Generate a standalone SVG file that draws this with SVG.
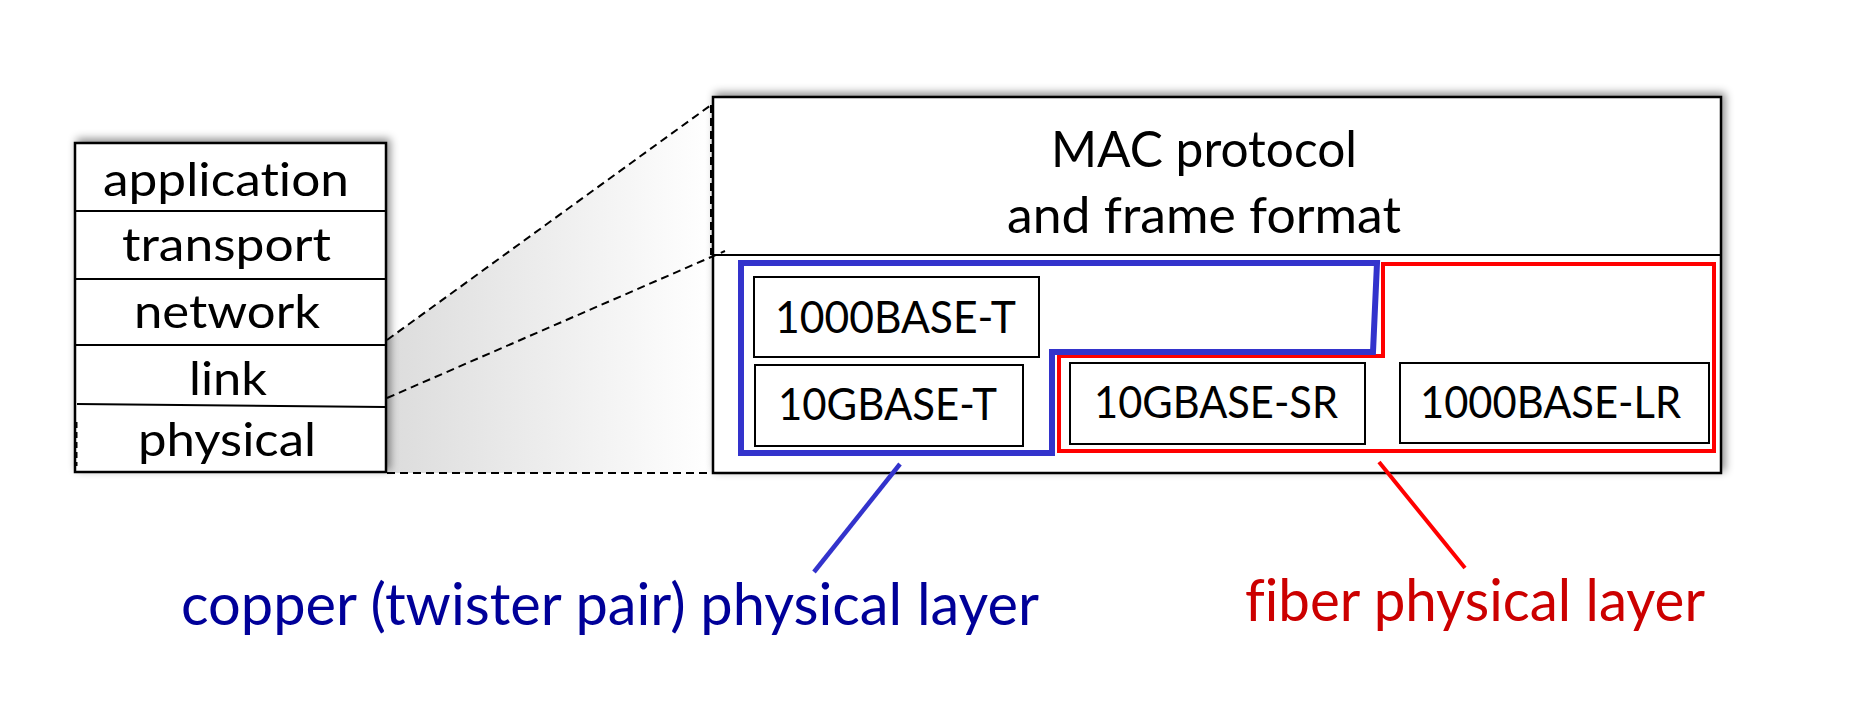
<svg xmlns="http://www.w3.org/2000/svg" width="1856" height="704" viewBox="0 0 1856 704">
<defs>
<filter id="sh" x="-10%" y="-15%" width="120%" height="130%">
<feDropShadow dx="3" dy="-3" stdDeviation="4" flood-color="#000" flood-opacity="0.45"/>
</filter>
<linearGradient id="fade" x1="0" y1="0" x2="1" y2="0">
<stop offset="0" stop-color="#dcdcdc"/>
<stop offset="1" stop-color="#ffffff"/>
</linearGradient>
<style>
.box{fill:#fff;stroke:#000;stroke-width:2.5}
.sub{fill:#fff;stroke:#000;stroke-width:2}
.div{stroke:#000;stroke-width:2;fill:none}
.dash{stroke:#000;stroke-width:2;stroke-dasharray:8 5;fill:none}
.t{font-family:Lato,"Open Sans",sans-serif;fill:#000;text-anchor:middle;font-variant-ligatures:none}
.stk{font-size:46px}
.mac{font-size:50px}
.lbl{font-size:44px}
.big{font-size:59px}
</style>
</defs>

<g id="zoom-shading">
<polygon points="387,340 712,105 712,473 387,473" fill="url(#fade)"/>
</g>

<g id="protocol-stack">
<rect class="box" x="75" y="143" width="311" height="329" filter="url(#sh)"/>
<line class="div" x1="75" y1="211" x2="386" y2="211"/>
<line class="div" x1="75" y1="279" x2="386" y2="279"/>
<line class="div" x1="75" y1="345" x2="386" y2="345"/>
<line class="div" x1="77" y1="404" x2="385" y2="407"/>
<line stroke="#000" stroke-width="3" stroke-dasharray="6 4" x1="76" y1="422" x2="76" y2="466"/>
<text class="t stk" x="226" y="196" textLength="246" lengthAdjust="spacingAndGlyphs">application</text>
<text class="t stk" x="226.5" y="261" textLength="209" lengthAdjust="spacingAndGlyphs">transport</text>
<text class="t stk" x="227" y="328" textLength="186" lengthAdjust="spacingAndGlyphs">network</text>
<text class="t stk" x="228" y="395" textLength="78" lengthAdjust="spacingAndGlyphs">link</text>
<text class="t stk" x="227" y="456" textLength="178" lengthAdjust="spacingAndGlyphs">physical</text>
</g>

<g id="link-layer-detail">
<rect class="box" x="713" y="97" width="1008" height="376" filter="url(#sh)"/>
<line class="div" x1="713" y1="255" x2="1721" y2="255"/>
<text class="t mac" x="1204" y="167" textLength="306" lengthAdjust="spacingAndGlyphs">MAC protocol</text>
<text class="t mac" x="1204" y="233" textLength="394" lengthAdjust="spacingAndGlyphs">and frame format</text>
</g>

<g id="connectors">
<line class="dash" x1="387" y1="340" x2="711" y2="105"/>
<line class="dash" x1="711" y1="105" x2="711" y2="255"/>
<line class="dash" x1="387" y1="398" x2="725" y2="251"/>
<line class="dash" x1="387" y1="473" x2="712" y2="473"/>
<line stroke="#3333cc" stroke-width="4.5" x1="900" y1="464" x2="814" y2="572"/>
<line stroke="#ff0000" stroke-width="4" x1="1379" y1="462" x2="1465" y2="568"/>
</g>

<g id="fiber-group">
<path d="M1383,264 L1714,264 L1714,451 L1059,451 L1059,356 L1383,356 Z" fill="none" stroke="#ff0000" stroke-width="4"/>
</g>

<g id="copper-group">
<path d="M741,263 L1377,263 L1373,352 L1052,352 L1052,453 L741,453 Z" fill="none" stroke="#3333cc" stroke-width="6"/>
</g>

<g id="n-1000base-t">
<rect class="sub" x="754" y="277" width="285" height="80"/>
<text class="t lbl" x="895.5" y="333" textLength="241" lengthAdjust="spacingAndGlyphs">1000BASE-T</text>
</g>
<g id="n-10gbase-t">
<rect class="sub" x="755" y="365" width="268" height="81"/>
<text class="t lbl" x="887.5" y="420" textLength="219" lengthAdjust="spacingAndGlyphs">10GBASE-T</text>
</g>
<g id="n-10gbase-sr">
<rect class="sub" x="1070" y="363" width="295" height="81"/>
<text class="t lbl" x="1216" y="418" textLength="244" lengthAdjust="spacingAndGlyphs">10GBASE-SR</text>
</g>
<g id="n-1000base-lr">
<rect class="sub" x="1400" y="363" width="309" height="80"/>
<text class="t lbl" x="1550.5" y="418" textLength="261" lengthAdjust="spacingAndGlyphs">1000BASE-LR</text>
</g>

<g id="copper-label">
<text class="t big" x="610" y="625" style="fill:#000099" textLength="858" lengthAdjust="spacingAndGlyphs">copper (twister pair) physical layer</text>
</g>
<g id="fiber-label">
<text class="t big" x="1475" y="621" style="fill:#cc0000" textLength="460" lengthAdjust="spacingAndGlyphs">fiber physical layer</text>
</g>
</svg>
